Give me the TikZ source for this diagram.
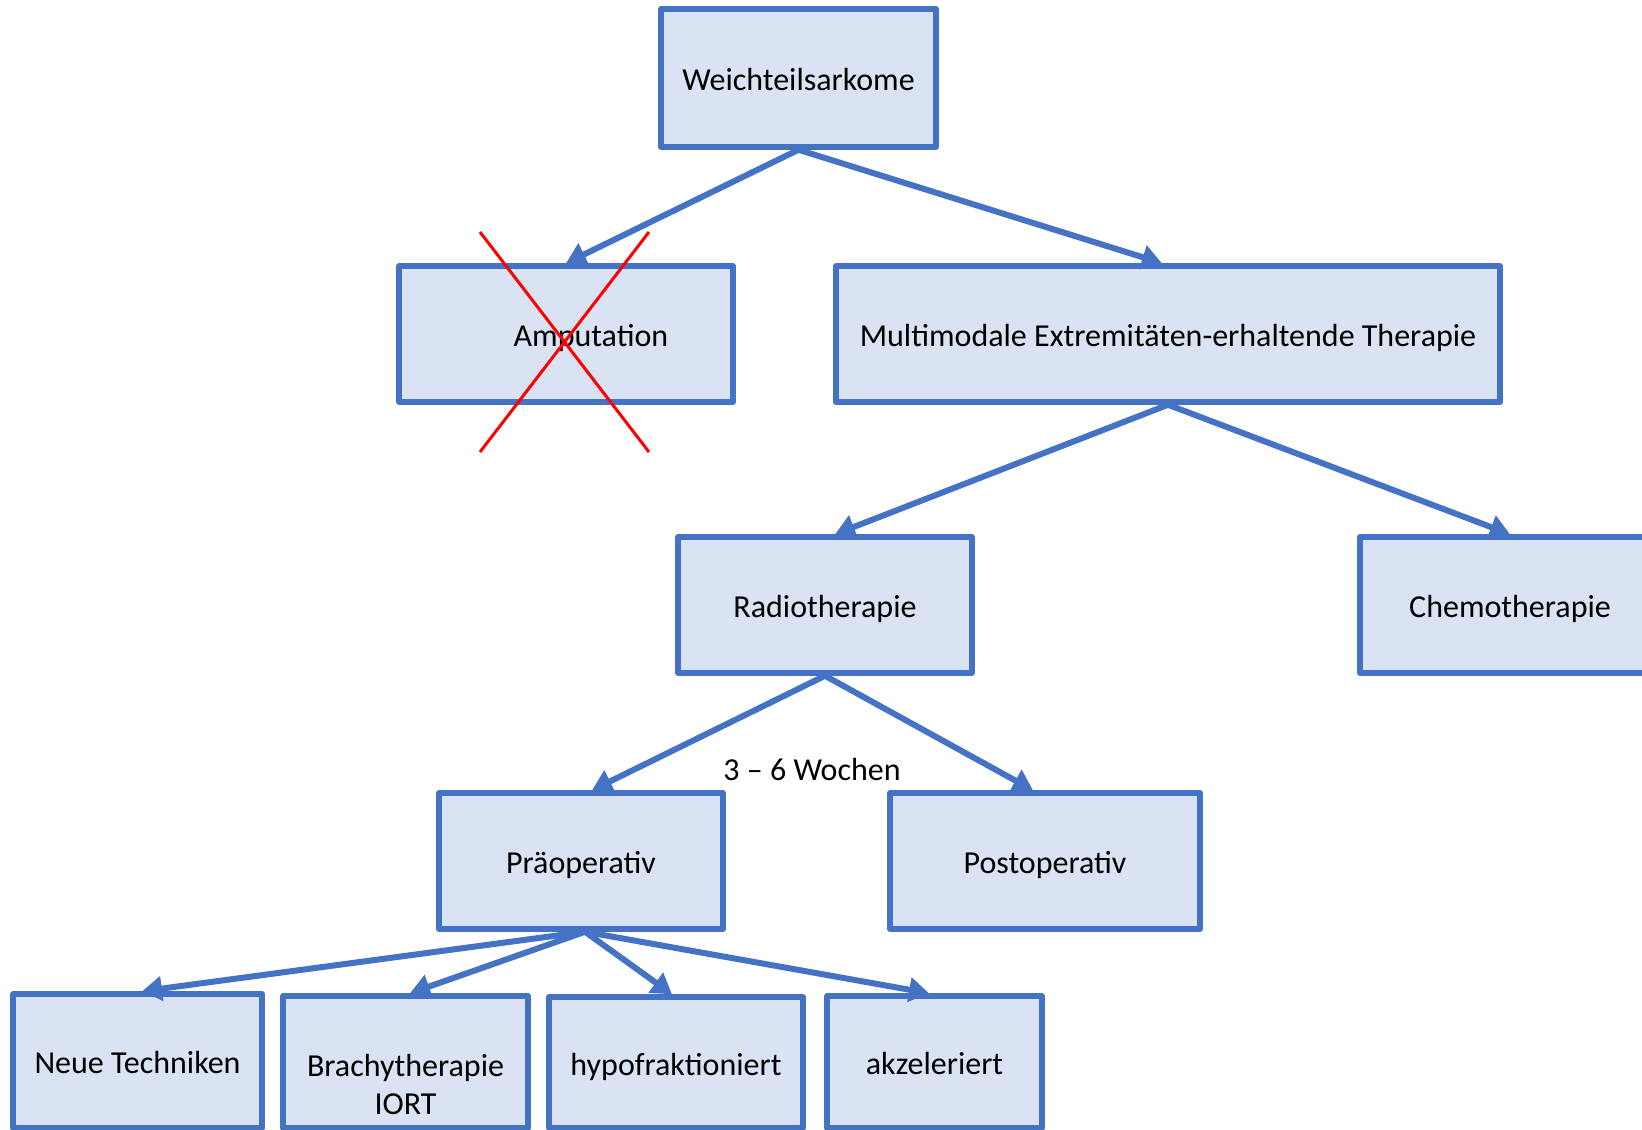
\documentclass[tikz,border=0pt]{standalone}
\usepackage{fontspec}
\setmainfont{Carlito}
\usetikzlibrary{arrows.meta, positioning}
\definecolor{boxblue}{HTML}{4472C4}
\definecolor{boxfill}{HTML}{DAE3F3}
\tikzset{
  box/.style = {draw=boxblue, fill=boxfill, line width=5.5pt, line join=round, inner sep=0pt,
                font=\fontsize{32}{38}\selectfont, align=center,
                text height=31pt, text depth=6pt},
  arr/.style = {-{Triangle[length=20pt,width=24pt]}, draw=boxblue, line width=6pt},
}

\begin{document}
\begin{tikzpicture} [x=1pt, y=-1pt, on grid]
   \useasboundingbox (0,0) rectangle (1642,1130);
   \clip (0,0) rectangle (1642,1130);

   \node (weich)[box, minimum width=275pt, minimum height=138pt] at (798.5,78) {Weichteilsarkome};
   \node (amp)[box, minimum width=334pt, minimum height=136pt, below left=256pt and 232.5pt of weich] {\hspace*{50pt}Amputation};
   \node (multi)[box, minimum width=664pt, minimum height=136pt, below right=256pt and 369.5pt of weich] {Multimodale Extremitäten-erhaltende Therapie};
   \node (radio)[box, minimum width=294pt, minimum height=136pt, below left=271pt and 343pt of multi] {Radiotherapie};
   \node (chemo)[box, minimum width=300pt, minimum height=136pt, below right=271pt and 342pt of multi] {Chemotherapie};
   \node (praeop)[box, minimum width=284pt, minimum height=136pt, below left=256pt and 244pt of radio] {Präoperativ};
   \node (postop)[box, minimum width=310pt, minimum height=136pt, below right=256pt and 220pt of radio] {Postoperativ};
   \node (neue)[box, minimum width=249pt, minimum height=134pt, below left=200pt and 443.5pt of praeop] {Neue Techniken};
   \node (brachy)[box, minimum width=245pt, minimum height=132pt, text height=104pt, text depth=0pt,
                  below left=201pt and 175.5pt of praeop] {Brachytherapie\\IORT};
   \node (hypo)[box, minimum width=254pt, minimum height=131pt, below right=201.5pt and 95pt of praeop] {hypofraktioniert};
   \node (akzel)[box, minimum width=215pt, minimum height=132pt, below right=201pt and 353.5pt of praeop] {akzeleriert};
   \node (wochen)[font=\fontsize{32}{38}\selectfont] at (812,769) {3 – 6 Wochen};

   \draw[arr] (weich.south) -- (amp.north);
   \draw[arr] (weich.south) -- ([xshift=-6pt]multi.north);
   \draw[arr] (multi.south) -- ([xshift=10pt]radio.north);
   \draw[arr] (multi.south) -- (chemo.north);
   \draw[arr] (radio.south) -- ([xshift=11pt]praeop.north);
   \draw[arr] (radio.south) -- ([xshift=-12pt]postop.north);
   \draw[arr] ([xshift=4pt]praeop.south) -- ([xshift=4.5pt]neue.north);
   \draw[arr] ([xshift=4pt]praeop.south) -- ([xshift=4.5pt]brachy.north);
   \draw[arr] ([xshift=4pt]praeop.south) -- ([xshift=-4pt]hypo.north);
   \draw[arr] ([xshift=4pt]praeop.south) -- ([xshift=-5.5pt]akzel.north);

   % crossed out
   \draw[red, line width=3pt] (480,232) -- (649,452) (649,232) -- (480,452);

\end{tikzpicture}
\end{document}
